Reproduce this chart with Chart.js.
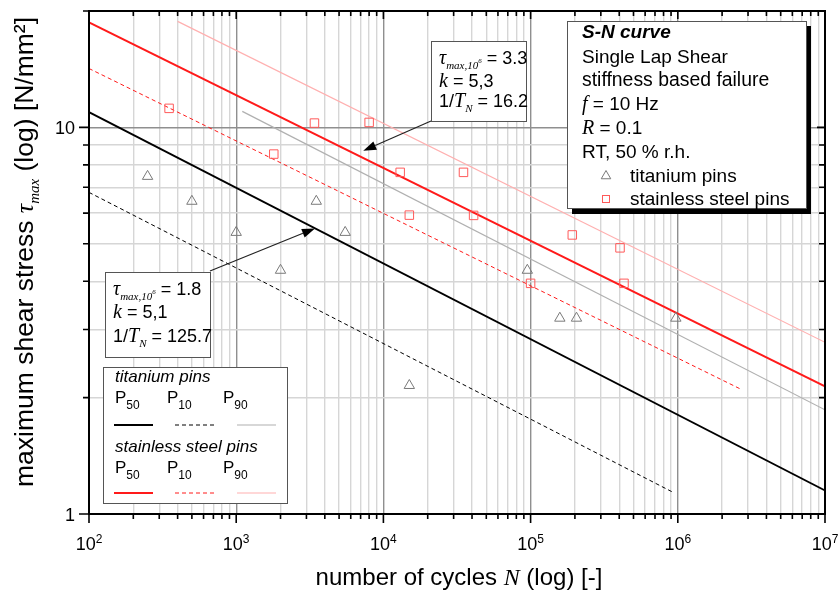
<!DOCTYPE html>
<html>
<head>
<meta charset="utf-8">
<script src="https://cdn.jsdelivr.net/npm/chart.js@4.4.1/dist/chart.umd.min.js"></script>
<style>
  html, body { margin: 0; padding: 0; background: #fff; }
  #sn { display: block; }
</style>
</head>
<body>
<canvas id="sn" width="838" height="591"></canvas>
<script>
/* ===== S-N curve, single lap shear ===== */

// test results: cycles to failure N and max shear stress [N/mm²]
const tiCycles = [250, 500, 1000, 2000, 3500, 5500, 15000, 95000, 158000, 205000, 970000];
const tiStress = [7.47, 6.44, 5.35, 4.27, 6.44, 5.35, 2.15, 4.27, 3.21, 3.21, 3.21];
const ssCycles = [350, 1800, 3400, 8000, 13000, 15000, 35000, 41000, 100000, 192000, 405000, 431000];
const ssStress = [11.2, 8.53, 10.26, 10.3, 7.65, 5.93, 7.65, 5.92, 3.95, 5.27, 4.88, 3.95];

// fitted lines, [N, tau] at both ends
const tiP50 = [[1e2, 10.95], [1e7, 1.15]];
const tiP10 = [[1e2, 6.79], [9.2e5, 1.14]];
const tiP90 = [[1.1e3, 11.0], [1e7, 1.86]];
const ssP50 = [[1e2, 18.7], [1e7, 2.14]];
const ssP10 = [[1e2, 14.2], [2.7e6, 2.10]];
const ssP90 = [[4e2, 18.8], [1e7, 2.78]];

// axes
const xMin = 1e2, xMax = 1e7;
const yMin = 1, yMax = 20;
const xTickExp = [2, 3, 4, 5, 6, 7];
const yTickValues = [1, 10];
const yTickLabels = ['1', '10'];

// arrow tips on the P50 lines
const ssArrowTip = [7300, 8.7];
const tiArrowTip = [3430, 5.48];

const SANS = '"Liberation Sans", Arial, sans-serif';
const SERIF = '"Liberation Serif", "Times New Roman", serif';

function logGrid(lo, hi) {
  const out = [];
  for (let d = Math.pow(10, Math.floor(Math.log10(lo))); d < hi; d *= 10) {
    for (let m = 1; m <= 9; m++) {
      const v = m * d;
      if (v >= lo - 1e-9 && v <= hi + 1e-9) out.push(v);
    }
  }
  if (out[out.length - 1] < hi) out.push(hi);
  return out;
}
const xGrid = logGrid(xMin, xMax);
const yGrid = logGrid(yMin, yMax);
const isDecade = v => Math.abs(Math.log10(v) - Math.round(Math.log10(v))) < 1e-6;

const pts = (xs, ys) => xs.map((x, i) => ({x, y: ys[i]}));
const seg = a => a.map(p => ({x: p[0], y: p[1]}));

function lineSet(data, color, width, dash) {
  return {
    data: seg(data), showLine: true, borderColor: color, borderWidth: width,
    borderDash: dash || [], pointRadius: 0, fill: false, tension: 0
  };
}

// draws text made of several styled runs, returns end x
function rich(ctx, x, y, parts) {
  for (const p of parts) {
    ctx.font = p.f;
    ctx.fillText(p.t, x, y + (p.dy || 0));
    x += ctx.measureText(p.t).width;
  }
  return x;
}
function richWidth(ctx, parts) {
  let w = 0;
  for (const p of parts) { ctx.font = p.f; w += ctx.measureText(p.t).width; }
  return w;
}

function box(ctx, x0, y0, x1, y1) {
  ctx.fillStyle = '#fff';
  ctx.fillRect(x0, y0, x1 - x0, y1 - y0);
  ctx.strokeStyle = '#555';
  ctx.lineWidth = 1;
  ctx.strokeRect(x0 + 0.5, y0 + 0.5, x1 - x0, y1 - y0);
}

function arrow(ctx, x0, y0, x1, y1) {
  const ang = Math.atan2(y1 - y0, x1 - x0);
  const L = 13, W = 4.5;
  ctx.strokeStyle = '#222';
  ctx.fillStyle = '#000';
  ctx.lineWidth = 1.2;
  ctx.beginPath();
  ctx.moveTo(x0, y0);
  ctx.lineTo(x1 - Math.cos(ang) * L, y1 - Math.sin(ang) * L);
  ctx.stroke();
  ctx.beginPath();
  ctx.moveTo(x1, y1);
  ctx.lineTo(x1 - Math.cos(ang) * L - Math.sin(ang) * W, y1 - Math.sin(ang) * L + Math.cos(ang) * W);
  ctx.lineTo(x1 - Math.cos(ang) * L + Math.sin(ang) * W, y1 - Math.sin(ang) * L - Math.cos(ang) * W);
  ctx.closePath();
  ctx.fill();
}

function tri(ctx, x, y, r) {
  ctx.beginPath();
  for (let k = 0; k < 3; k++) {
    const a = k * 2 * Math.PI / 3;
    ctx[k ? 'lineTo' : 'moveTo'](x + Math.sin(a) * r, y - Math.cos(a) * r);
  }
  ctx.closePath();
  ctx.stroke();
}

function sample(ctx, x0, x1, y, color, width, dash) {
  ctx.strokeStyle = color;
  ctx.lineWidth = width;
  ctx.setLineDash(dash || []);
  ctx.beginPath();
  ctx.moveTo(x0, y);
  ctx.lineTo(x1, y);
  ctx.stroke();
  ctx.setLineDash([]);
}

const decor = {
  id: 'decor',
  afterDatasetsDraw(chart) {
    const {ctx, chartArea: a, scales: {x, y}} = chart;
    ctx.save();

    // tick marks: outside on left/bottom, inside on top/right
    ctx.strokeStyle = '#000';
    ctx.lineWidth = 1.6;
    ctx.beginPath();
    xGrid.forEach(v => {
      const px = x.getPixelForValue(v);
      const big = isDecade(v);
      ctx.moveTo(px, a.bottom); ctx.lineTo(px, a.bottom + (big ? 9 : 5));
      ctx.moveTo(px, a.top); ctx.lineTo(px, a.top + (big ? 8 : 5));
    });
    yGrid.forEach(v => {
      const py = y.getPixelForValue(v);
      const big = isDecade(v);
      ctx.moveTo(a.left, py); ctx.lineTo(a.left - (big ? 10 : 6), py);
      ctx.moveTo(a.right, py); ctx.lineTo(a.right - (big ? 8 : 6), py);
    });
    ctx.stroke();

    // frame
    ctx.lineWidth = 2;
    ctx.strokeRect(a.left, a.top, a.right - a.left, a.bottom - a.top);

    // tick labels
    ctx.fillStyle = '#000';
    ctx.textBaseline = 'alphabetic';
    ctx.textAlign = 'left';
    xTickExp.forEach(e => {
      const px = x.getPixelForValue(Math.pow(10, e));
      const parts = [{t: '10', f: '18px ' + SANS}, {t: String(e), f: '12px ' + SANS, dy: -7}];
      rich(ctx, px - richWidth(ctx, parts) / 2, 550, parts);
    });
    ctx.font = '18px ' + SANS;
    ctx.textAlign = 'right';
    yTickValues.forEach((v, i) => {
      ctx.fillText(yTickLabels[i], 75, y.getPixelForValue(v) + 6.5);
    });
    ctx.textAlign = 'left';

    // axis titles
    const xt = [
      {t: 'number of cycles ', f: '24px ' + SANS},
      {t: 'N', f: 'italic 24px ' + SERIF},
      {t: ' (log) [-]', f: '24px ' + SANS}
    ];
    rich(ctx, (a.left + a.right) / 2 + 2 - richWidth(ctx, xt) / 2, 585, xt);

    const yt = [
      {t: 'maximum shear stress ', f: '26.5px ' + SANS},
      {t: 'τ', f: 'italic 26px ' + SERIF},
      {t: 'max', f: 'italic 15px ' + SERIF, dy: 6},
      {t: ' (log) [N/mm²]', f: '26.5px ' + SANS}
    ];
    ctx.save();
    ctx.translate(33, 252);
    ctx.rotate(-Math.PI / 2);
    rich(ctx, -richWidth(ctx, yt) / 2, 0, yt);
    ctx.restore();

    // P50 annotations with arrows
    const sTip = [x.getPixelForValue(ssArrowTip[0]), y.getPixelForValue(ssArrowTip[1])];
    const tTip = [x.getPixelForValue(tiArrowTip[0]), y.getPixelForValue(tiArrowTip[1])];
    arrow(ctx, 431, 121, sTip[0], sTip[1]);
    arrow(ctx, 210, 271, tTip[0], tTip[1]);

    const note = (x0, y0, x1, y1, bl, tau, k, tn) => {
      box(ctx, x0, y0, x1, y1);
      ctx.fillStyle = '#000';
      const tx = x0 + 8;
      rich(ctx, tx, bl[0], [
        {t: 'τ', f: 'italic 20px ' + SERIF},
        {t: 'max,10', f: 'italic 11px ' + SERIF, dy: 5},
        {t: '6', f: 'italic 7px ' + SERIF, dy: -1},
        {t: ' = ' + tau, f: '18px ' + SANS}
      ]);
      rich(ctx, tx, bl[1], [
        {t: 'k', f: 'italic 20px ' + SERIF},
        {t: ' = ' + k, f: '18px ' + SANS}
      ]);
      rich(ctx, tx, bl[2], [
        {t: '1/', f: '18px ' + SANS},
        {t: 'T', f: 'italic 20px ' + SERIF},
        {t: 'N', f: 'italic 11px ' + SERIF, dy: 5},
        {t: ' = ' + tn, f: '18px ' + SANS}
      ]);
    };
    note(431, 41, 526, 121, [64, 87, 107], '3.3', '5,3', '16.2');
    note(105, 272, 210, 357, [295, 318, 342], '1.8', '5,1', '125.7');

    // info box with drop shadow
    ctx.fillStyle = '#000';
    ctx.fillRect(572, 26, 239, 188);
    box(ctx, 567, 21, 806, 208);
    ctx.fillStyle = '#000';
    const lx = 582;
    rich(ctx, lx, 38, [{t: 'S-N curve', f: 'italic bold 19px ' + SANS}]);
    rich(ctx, lx, 63, [{t: 'Single Lap Shear', f: '19px ' + SANS}]);
    rich(ctx, lx, 86, [{t: 'stiffness based failure', f: '19.4px ' + SANS}]);
    rich(ctx, lx, 110, [{t: 'f', f: 'italic 20px ' + SERIF}, {t: ' = 10 Hz', f: '19px ' + SANS}]);
    rich(ctx, lx, 134, [{t: 'R', f: 'italic 20px ' + SERIF}, {t: ' = 0.1', f: '19px ' + SANS}]);
    rich(ctx, lx, 158, [{t: 'RT, 50 % r.h.', f: '19px ' + SANS}]);
    rich(ctx, 630, 182, [{t: 'titanium pins', f: '19px ' + SANS}]);
    rich(ctx, 630, 205, [{t: 'stainless steel pins', f: '19px ' + SANS}]);
    ctx.lineWidth = 1;
    ctx.strokeStyle = '#7a7a7a';
    tri(ctx, 606, 176, 5.5);
    ctx.strokeStyle = '#ff5a5a';
    ctx.strokeRect(602.5, 195.5, 7, 7);

    // line legend
    box(ctx, 103, 367, 287, 503);
    ctx.fillStyle = '#000';
    rich(ctx, 115, 382, [{t: 'titanium pins', f: 'italic 17px ' + SANS}]);
    rich(ctx, 115, 452, [{t: 'stainless steel pins', f: 'italic 17px ' + SANS}]);
    const pLabel = (px, bl, sub) => rich(ctx, px, bl, [
      {t: 'P', f: '17px ' + SANS},
      {t: sub, f: '12px ' + SANS, dy: 6}
    ]);
    [['50', 115], ['10', 167], ['90', 223]].forEach(([s, px]) => {
      pLabel(px, 403, s);
      pLabel(px, 473, s);
    });
    sample(ctx, 114, 153, 425, '#000', 1.8);
    sample(ctx, 175, 215, 425, '#000', 1, [4, 3]);
    sample(ctx, 237, 276, 425, '#b0b0b0', 1.2);
    sample(ctx, 114, 153, 493, '#ff1a1a', 2);
    sample(ctx, 175, 215, 493, '#ff1a1a', 1, [4, 3]);
    sample(ctx, 237, 276, 493, '#ffb0b0', 1.2);

    ctx.restore();
  }
};

const gridColor = c => (c.tick && isDecade(c.tick.value)) ? '#8f8f8f' : '#d6d6d6';

new Chart(document.getElementById('sn'), {
  type: 'scatter',
  data: {
    datasets: [
      {
        label: 'titanium pins', data: pts(tiCycles, tiStress),
        pointStyle: 'triangle', pointRadius: 6, pointBorderWidth: 1,
        borderColor: '#7a7a7a', backgroundColor: 'rgba(0,0,0,0)'
      },
      {
        label: 'stainless steel pins', data: pts(ssCycles, ssStress),
        pointStyle: 'rect', pointRadius: 6, pointBorderWidth: 1,
        borderColor: '#ff5a5a', backgroundColor: 'rgba(0,0,0,0)'
      },
      lineSet(ssP50, '#ff1a1a', 2),
      lineSet(ssP10, '#ff1a1a', 1, [4, 3]),
      lineSet(ssP90, '#ffb0b0', 1.2),
      lineSet(tiP50, '#000', 1.8),
      lineSet(tiP10, '#000', 1, [4, 3]),
      lineSet(tiP90, '#b0b0b0', 1.2)
    ]
  },
  options: {
    responsive: false,
    animation: false,
    devicePixelRatio: 1,
    layout: { padding: { left: 89, right: 13, top: 11, bottom: 77 } },
    plugins: { legend: { display: false }, tooltip: { enabled: false } },
    scales: {
      x: {
        type: 'logarithmic', min: xMin, max: xMax,
        afterBuildTicks: s => { s.ticks = xGrid.map(v => ({value: v})); },
        ticks: { display: false },
        grid: { color: gridColor, lineWidth: 1.4, drawTicks: false },
        border: { display: false }
      },
      y: {
        type: 'logarithmic', min: yMin, max: yMax,
        afterBuildTicks: s => { s.ticks = yGrid.map(v => ({value: v})); },
        ticks: { display: false },
        grid: { color: gridColor, lineWidth: 1.4, drawTicks: false },
        border: { display: false }
      }
    }
  },
  plugins: [decor]
});
</script>
</body>
</html>
